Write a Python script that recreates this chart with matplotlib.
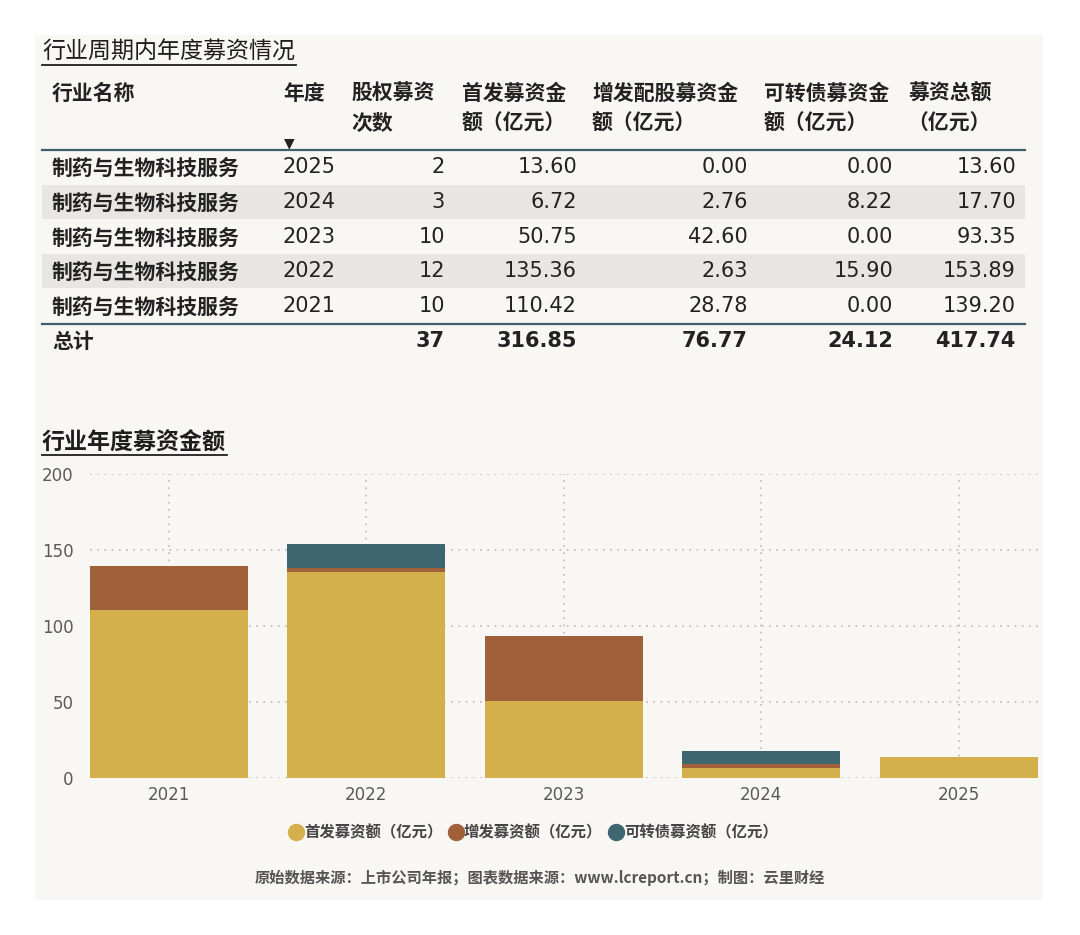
import matplotlib
matplotlib.use('Agg')
import matplotlib.pyplot as plt
from matplotlib.patches import Rectangle
from matplotlib.lines import Line2D

# ---------------- data ----------------
industry = '制药与生物科技服务'
years = ['2025', '2024', '2023', '2022', '2021']
counts = [2, 3, 10, 12, 10]
ipo = [13.60, 6.72, 50.75, 135.36, 110.42]
seo = [0.00, 2.76, 42.60, 2.63, 28.78]
cb = [0.00, 8.22, 0.00, 15.90, 0.00]
total = [13.60, 17.70, 93.35, 153.89, 139.20]
sum_counts = 37
sum_ipo = 316.85
sum_seo = 76.77
sum_cb = 24.12
sum_total = 417.74

headers = [('行业名称', ''), ('年度', ''), ('股权募资', '次数'), ('首发募资金', '额（亿元）'),
           ('增发配股募资金', '额（亿元）'), ('可转债募资金', '额（亿元）'), ('募资总额', '（亿元）')]
legend_labels = ['首发募资额（亿元）', '增发募资额（亿元）', '可转债募资额（亿元）']
yticks = [0, 50, 100, 150, 200]

GOLD, BROWN, TEAL = '#D3B04B', '#A0603A', '#3E6670'

W, H = 1080, 935
fig = plt.figure(figsize=(10.8, 9.35), dpi=100, facecolor='white')


def fx(x):
    return x / W


def fy(y):
    return 1 - y / H


FAM = ['DejaVu Sans', 'Noto Sans CJK SC']
CJK = ['Noto Sans CJK SC', 'DejaVu Sans']

# background panel
fig.add_artist(Rectangle((fx(35), fy(900)), fx(1043) - fx(35), fy(35) - fy(900),
                         transform=fig.transFigure, facecolor='#F9F7F4', edgecolor='none', zorder=0))


def T(x, y, s, ha='left', size=15, weight='normal', color='#222222', family=FAM):
    fig.text(fx(x), fy(y), s, ha=ha, va='center', fontsize=size, fontweight=weight,
             color=color, family=family, zorder=5)


# ---------------- table ----------------
T(42, 52, '行业周期内年度募资情况', size=16.6, weight='medium', family=CJK, color='#1e1e1e')
fig.add_artist(Line2D([fx(42), fx(296)], [fy(65), fy(65)], transform=fig.transFigure,
                      color='#1e1e1e', lw=1.3))

hx = [52, 283, 351, 462, 592, 764, 909]
for (l1, l2), x in zip(headers, hx):
    T(x, 93, l1, weight='bold', family=CJK)
    if l2:
        T(x if not l2.startswith('（') else x - 2, 123, l2, weight='bold', family=CJK)
T(289, 143, '▼', ha='center', size=10, family=['DejaVu Sans'])

# lines
fig.add_artist(Line2D([fx(42), fx(1025)], [fy(150), fy(150)], transform=fig.transFigure,
                      color='#3D5E6A', lw=1.6))
fig.add_artist(Line2D([fx(42), fx(1025)], [fy(324), fy(324)], transform=fig.transFigure,
                      color='#3D5E6A', lw=1.6))

row_y = [167, 202, 237, 271, 306]
row_h = 34.8
for i, y in enumerate(row_y):
    if i % 2 == 1:
        fig.add_artist(Rectangle((fx(42), fy(y + row_h / 2)), fx(1025) - fx(42), row_h / H,
                                 transform=fig.transFigure, facecolor='#E7E6E2',
                                 edgecolor='none', zorder=1))
    T(52, y + 1, industry, weight='bold', family=CJK)
    T(283, y, years[i])
    T(445, y, f'{counts[i]}', ha='right')
    T(577, y, f'{ipo[i]:.2f}', ha='right')
    T(748, y, f'{seo[i]:.2f}', ha='right')
    T(893, y, f'{cb[i]:.2f}', ha='right')
    T(1016, y, f'{total[i]:.2f}', ha='right')

ty = 341
T(52, ty + 1, '总计', weight='heavy', family=CJK)
T(445, ty, f'{sum_counts}', ha='right', weight='bold')
T(577, ty, f'{sum_ipo:.2f}', ha='right', weight='bold')
T(748, ty, f'{sum_seo:.2f}', ha='right', weight='bold')
T(893, ty, f'{sum_cb:.2f}', ha='right', weight='bold')
T(1016, ty, f'{sum_total:.2f}', ha='right', weight='bold')

# ---------------- chart ----------------
T(42, 443, '行业年度募资金额', size=16.6, weight='bold', family=CJK, color='#1e1e1e')
fig.add_artist(Line2D([fx(42), fx(227)], [fy(455), fy(455)], transform=fig.transFigure,
                      color='#1e1e1e', lw=1.3))

yrs = years[::-1]
ipo_c = ipo[::-1]
seo_c = seo[::-1]
cb_c = cb[::-1]
xs = list(range(len(yrs)))

ax = fig.add_axes([fx(90), fy(778), (1037.5 - 90) / W, (778 - 474) / H])
ax.set_facecolor('none')
b2 = [a for a in ipo_c]
b3 = [a + b for a, b in zip(ipo_c, seo_c)]
ax.bar(xs, ipo_c, width=0.8, color=GOLD, zorder=3)
ax.bar(xs, seo_c, width=0.8, bottom=b2, color=BROWN, zorder=3)
ax.bar(xs, cb_c, width=0.8, bottom=b3, color=TEAL, zorder=3)
ax.set_xlim(-0.4, 4.4)
ax.set_ylim(0, 200)
ax.set_xticks(xs)
ax.set_xticklabels(yrs)
ax.set_yticks(yticks)
ax.grid(True, linestyle=(0, (1, 3)), color='#c4c4c4', linewidth=1.3, zorder=0)
ax.set_axisbelow(True)
for s in ax.spines.values():
    s.set_visible(False)
ax.tick_params(axis='y', length=0, pad=12, labelsize=12, labelcolor='#5a5a5a')
ax.tick_params(axis='x', length=0, pad=6, labelsize=12, labelcolor='#5a5a5a')
for lab in ax.get_xticklabels() + ax.get_yticklabels():
    lab.set_family(['DejaVu Sans'])

handles = [Line2D([], [], marker='o', linestyle='none', markersize=11.5,
                  markerfacecolor=c, markeredgecolor=c) for c in (GOLD, BROWN, TEAL)]
fig.legend(handles, legend_labels, loc='center', bbox_to_anchor=(fx(534), fy(832)), ncol=3,
           frameon=False, handlelength=0.8, handletextpad=0.1, columnspacing=0.5,
           prop=dict(family=CJK, weight='bold', size=11.1), labelcolor='#444444')

T(539.5, 878, '原始数据来源：上市公司年报；图表数据来源：www.lcreport.cn；制图：云里财经',
  ha='center', size=11, weight='bold', family=CJK, color='#555555')

fig.savefig('out.png', dpi=100, facecolor='white')
